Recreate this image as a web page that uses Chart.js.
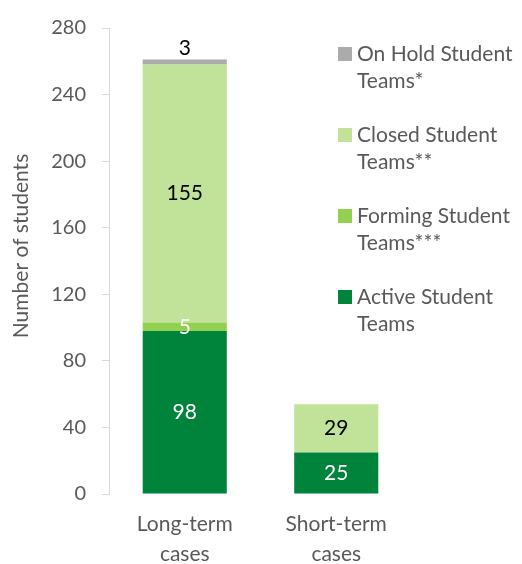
<!DOCTYPE html>
<html>
<head>
<meta charset="utf-8">
<script src="https://cdn.jsdelivr.net/npm/chart.js@4"></script>
<style>
  html, body { margin: 0; padding: 0; background: #fff; }
  #wrap { width: 522px; height: 564px; }
</style>
</head>
<body>
<div id="wrap"><canvas id="teamChart"></canvas></div>
<script>
const categories = [['Long-term', 'cases'], ['Short-term', 'cases']];
const activeTeams = [98, 25];
const formingTeams = [5, 0];
const closedTeams = [155, 29];
const onHoldTeams = [3, 0];
const yTicks = [0, 40, 80, 120, 160, 200, 240, 280];
const yTitle = 'Number of students';

const FONT = 'Lato, "Open Sans", sans-serif';
const GREY_TEXT = '#595959';

// legend order top to bottom, lines already wrapped like the original
const legendItems = [
  { lines: ['On Hold Student', 'Teams*'], color: '#ABABAB' },
  { lines: ['Closed Student', 'Teams**'], color: '#C0E399' },
  { lines: ['Forming Student', 'Teams***'], color: '#92D050' },
  { lines: ['Active Student', 'Teams'], color: '#00843C' }
];

// value labels inside / on top of the segments
const valueLabels = {
  id: 'valueLabels',
  afterDatasetsDraw(chart) {
    const ctx = chart.ctx;
    ctx.save();
    ctx.font = '21px ' + FONT;
    ctx.textAlign = 'center';
    ctx.textBaseline = 'middle';
    chart.data.datasets.forEach((ds, i) => {
      const meta = chart.getDatasetMeta(i);
      meta.data.forEach((bar, j) => {
        const v = ds.data[j];
        if (!v) return;
        ctx.fillStyle = ds.labelColor;
        let y = (bar.y + bar.base) / 2;
        if (ds.labelOutside) y = bar.y - 11;
        ctx.fillText(String(v), bar.x, y);
      });
    });
    ctx.restore();
  }
};

// legend on the right + axis title (Excel puts the title a bit above centre)
const sideLegend = {
  id: 'sideLegend',
  afterDraw(chart) {
    const ctx = chart.ctx;
    ctx.save();
    ctx.font = '21px ' + FONT;
    ctx.textBaseline = 'middle';
    ctx.textAlign = 'left';
    const x0 = 338, y0 = 54, step = 81, lineH = 27;
    legendItems.forEach((item, i) => {
      const y = y0 + i * step;
      ctx.fillStyle = item.color;
      ctx.fillRect(x0, y - 7, 14, 14);
      ctx.fillStyle = GREY_TEXT;
      item.lines.forEach((t, k) => ctx.fillText(t, x0 + 19, y + k * lineH));
    });

    ctx.translate(21, 246);
    ctx.rotate(-Math.PI / 2);
    ctx.textAlign = 'center';
    ctx.font = '21px ' + FONT;
    ctx.fillText(yTitle, 0, 0);
    ctx.restore();
  }
};

const ctx = document.getElementById('teamChart').getContext('2d');

new Chart(ctx, {
  type: 'bar',
  data: {
    labels: categories,
    datasets: [
      { label: 'Active Student Teams', data: activeTeams, backgroundColor: '#00843C', labelColor: '#ffffff' },
      { label: 'Forming Student Teams***', data: formingTeams, backgroundColor: '#92D050', labelColor: '#ffffff' },
      { label: 'Closed Student Teams**', data: closedTeams, backgroundColor: '#C0E399', labelColor: '#000000' },
      { label: 'On Hold Student Teams*', data: onHoldTeams, backgroundColor: '#ABABAB', labelColor: '#000000', labelOutside: true }
    ]
  },
  options: {
    responsive: true,
    maintainAspectRatio: false,
    animation: false,
    layout: { padding: { top: 22, right: 110, left: 0, bottom: 0 } },
    datasets: {
      bar: { categoryPercentage: 1, barPercentage: 0.555, borderWidth: 0 }
    },
    scales: {
      x: {
        stacked: true,
        grid: { display: false, drawTicks: false },
        border: { display: false },
        ticks: {
          color: GREY_TEXT,
          padding: 15,
          font: { family: FONT, size: 21, lineHeight: 1.45 },
          maxRotation: 0
        },
        afterFit(scale) { scale.height = 70; }
      },
      y: {
        stacked: true,
        min: 0,
        max: 280,
        afterBuildTicks(scale) { scale.ticks = yTicks.map(v => ({ value: v })); },
        grid: {
          display: true,
          drawOnChartArea: false,
          drawTicks: true,
          tickLength: 7,
          color: '#D9D9D9'
        },
        border: { display: true, color: '#D9D9D9', width: 1 },
        ticks: {
          color: GREY_TEXT,
          padding: 16,
          font: { family: FONT, size: 20 }
        },
        title: { display: false },
        afterFit(scale) { scale.width = 109; }
      }
    },
    plugins: {
      legend: { display: false },
      tooltip: { enabled: false }
    }
  },
  plugins: [valueLabels, sideLegend]
});
</script>
</body>
</html>
